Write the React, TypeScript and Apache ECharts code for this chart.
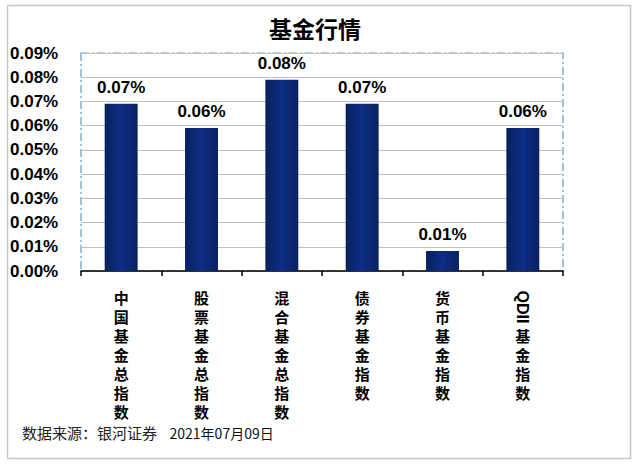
import React, { useEffect, useRef } from "react";
import * as echarts from "echarts";

const titleText = "基金行情";
const categories = ["中国基金总指数", "股票基金总指数", "混合基金总指数", "债券基金指数", "货币基金指数", "QDII基金指数"];
const values = [0.069, 0.059, 0.079, 0.069, 0.0083, 0.059];
const yTicks = { min: 0, max: 0.09, interval: 0.01 };
const footerSource = "数据来源：银河证券";
const footerDate = "2021年07月09日";

export default function App() {
  const ref = useRef<HTMLDivElement>(null);
  useEffect(() => {
    if (!ref.current) return;
    const chart = echarts.init(ref.current, null, { renderer: "svg" });
    const cjk = '"Noto Sans CJK SC", sans-serif';
    const latin = '"Liberation Sans", "Noto Sans", sans-serif';
    const LH = 19;
    const MARGIN = 17;
    const splitLabel = (s: string) => {
      const out: string[] = [];
      let ascii = "";
      for (const ch of s) {
        if (/[A-Za-z0-9]/.test(ch)) {
          ascii += ch;
        } else {
          if (ascii) { out.push(" ", " "); ascii = ""; }
          out.push(ch);
        }
      }
      if (ascii) out.push(" ", " ");
      return out.join("\n");
    };
    chart.setOption({
      animation: false,
      backgroundColor: "#ffffff",
      title: {
        text: titleText,
        left: 310,
        textAlign: "center",
        top: 11,
        textStyle: { fontFamily: cjk, fontWeight: "bold", fontSize: 23, color: "#000" },
      },
      grid: {
        left: 81,
        right: 77,
        top: 53,
        bottom: 197,
        containLabel: false,
        show: true,
        borderColor: "#5b9bd5",
        borderWidth: 1.2,
        borderType: [8, 3, 2, 3],
      },
      xAxis: {
        type: "category",
        data: categories,
        axisLine: { lineStyle: { color: "#000", width: 1.5 } },
        axisTick: { show: true, alignWithLabel: false, length: 5, lineStyle: { color: "#000", width: 1.5 } },
        axisLabel: {
          interval: 0,
          margin: MARGIN,
          formatter: (v: string) => splitLabel(v),
          fontFamily: cjk,
          fontWeight: "bold",
          fontSize: 15,
          lineHeight: LH,
          color: "#000",
        },
      },
      yAxis: {
        type: "value",
        min: yTicks.min,
        max: yTicks.max,
        interval: yTicks.interval,
        axisLine: { show: false },
        axisTick: { show: false },
        splitLine: { lineStyle: { color: "#c0c0c0", width: 1 } },
        axisLabel: {
          formatter: (v: number) => v.toFixed(2) + "%",
          align: "left",
          margin: 71,
          fontFamily: latin,
          fontWeight: "bold",
          fontSize: 17,
          color: "#000",
        },
      },
      series: [
        {
          type: "bar",
          data: values,
          barWidth: "41%",
          itemStyle: {
            color: new echarts.graphic.LinearGradient(0, 0, 1, 0, [
              { offset: 0, color: "#08215e" },
              { offset: 0.5, color: "#0d2d86" },
              { offset: 1, color: "#08215e" },
            ]),
          },
          label: {
            show: true,
            position: "top",
            distance: 8,
            formatter: (p: any) => (p.value as number).toFixed(2) + "%",
            fontFamily: latin,
            fontWeight: "bold",
            fontSize: 17,
            color: "#000",
          },
        },
      ],
    });

    const axisY = chart.convertToPixel({ yAxisIndex: 0 }, 0) as number;
    const graphics: any[] = [
      {
        type: "rect",
        id: "frame",
        shape: { x: 7.5, y: 5.5, width: 623, height: 453 },
        style: { fill: "none", stroke: "#c8c8c8", lineWidth: 1.5 },
        silent: true,
        z: -10,
      },
      {
        type: "text",
        id: "footer",
        left: 22,
        top: 425,
        style: {
          text: "{s|" + footerSource + "}{d|    " + footerDate + "}",
          rich: {
            s: { fontFamily: cjk, fontSize: 15, fill: "#222", color: "#222" },
            d: { fontFamily: cjk, fontSize: 14, fill: "#111", color: "#111" },
          },
        },
      },
    ];
    categories.forEach((c, i) => {
      const m = c.match(/[A-Za-z0-9]+/);
      if (m) {
        const cx = chart.convertToPixel({ xAxisIndex: 0 }, c) as number;
        graphics.push({
          type: "text",
          id: "rot" + i,
          x: cx,
          y: axisY + MARGIN + LH,
          rotation: -Math.PI / 2,
          style: {
            text: m[0],
            fontFamily: latin,
            fontWeight: "bold",
            fontSize: 16,
            fill: "#000",
            align: "center",
            verticalAlign: "middle",
          },
        });
      }
    });
    chart.setOption({ graphic: graphics });
    return () => chart.dispose();
  }, []);
  return (
    <div
      ref={ref}
      style={{ position: "fixed", left: 0, top: 0, width: 640, height: 468 }}
    />
  );
}
